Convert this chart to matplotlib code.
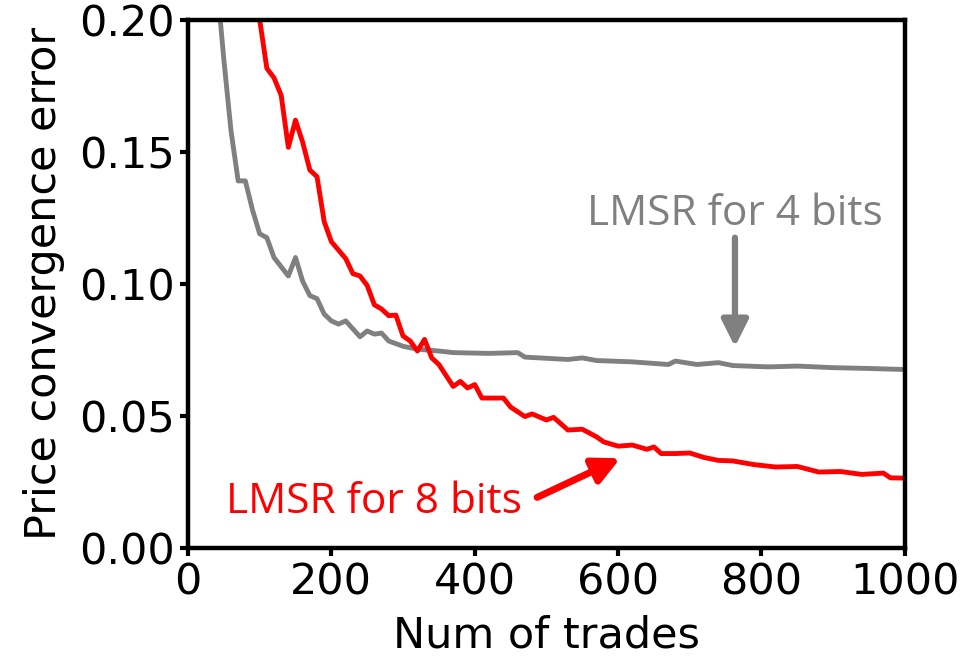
import matplotlib
matplotlib.use('Agg')
import matplotlib.pyplot as plt

# trades vs. price convergence error
trades_4 = [40, 50, 60, 70, 80, 90, 100, 110, 120, 140, 150, 160, 170, 180, 190, 200,
            210, 220, 240, 250, 260, 270, 280, 300, 320, 350, 370, 420, 460, 470, 530,
            550, 570, 620, 670, 680, 710, 740, 760, 810, 850, 900, 950, 1000]
error_4 = [0.215, 0.185, 0.158, 0.139, 0.139, 0.128, 0.119, 0.1175, 0.110, 0.103, 0.110,
           0.101, 0.0956, 0.0944, 0.0886, 0.086, 0.0848, 0.086, 0.080, 0.0822, 0.081,
           0.0814, 0.0784, 0.0764, 0.0753, 0.0746, 0.074, 0.0737, 0.074, 0.0723, 0.0714,
           0.072, 0.071, 0.0705, 0.0695, 0.0708, 0.0695, 0.0702, 0.0691, 0.0686, 0.0689,
           0.0683, 0.068, 0.0676]

trades_8 = [90, 100, 110, 120, 130, 140, 150, 160, 170, 180, 190, 200, 210, 220, 230, 240,
            250, 260, 270, 280, 290, 300, 310, 320, 330, 340, 350, 370, 380, 390, 400, 410,
            440, 450, 470, 480, 500, 510, 530, 550, 570, 580, 600, 620, 640, 650, 660, 680,
            700, 720, 740, 760, 790, 820, 850, 880, 910, 940, 970, 980, 1000]
error_8 = [0.225, 0.20, 0.1816, 0.178, 0.1714, 0.1517, 0.162, 0.1536, 0.1431, 0.1406,
           0.1236, 0.116, 0.1128, 0.1096, 0.1039, 0.103, 0.0994, 0.0921, 0.0905, 0.088,
           0.0882, 0.0803, 0.0784, 0.0746, 0.079, 0.072, 0.0695, 0.0612, 0.0631, 0.0606,
           0.0619, 0.0568, 0.0568, 0.0534, 0.0498, 0.0508, 0.0485, 0.0495, 0.0447, 0.045,
           0.0421, 0.0402, 0.0386, 0.039, 0.0374, 0.0383, 0.0358, 0.0358, 0.036, 0.0343,
           0.0332, 0.033, 0.0316, 0.0307, 0.0309, 0.0288, 0.029, 0.0279, 0.0284, 0.0266,
           0.0265]

fig = plt.figure(figsize=(9.74, 6.58), dpi=100)
ax = fig.add_axes([0.193, 0.167, 0.736, 0.803])

ax.plot(trades_4, error_4, color='gray', lw=3.5)
ax.plot(trades_8, error_8, color='red', lw=3.5)

ax.set_xlim(0, 1000)
ax.set_ylim(0, 0.2)
ax.set_xticks([0, 200, 400, 600, 800, 1000])
ax.set_yticks([0.0, 0.05, 0.10, 0.15, 0.20])
ax.set_yticklabels(['0.00', '0.05', '0.10', '0.15', '0.20'])
ax.tick_params(labelsize=31, width=3, length=6)
for s in ax.spines.values():
    s.set_linewidth(3.2)

ax.set_xlabel('Num of trades', fontsize=31, labelpad=8)
ax.set_ylabel('Price convergence error', fontsize=31, labelpad=10)

ann_font = ['Open Sans', 'DejaVu Sans']
ax.annotate('', xy=(763, 0.0762), xytext=(763, 0.1175),
            arrowprops=dict(arrowstyle='-|>,head_length=0.8,head_width=0.4',
                            mutation_scale=20, color='gray', lw=4.5,
                            shrinkA=0, shrinkB=0))
ax.text(763, 0.1265, 'LMSR for 4 bits', color='gray', fontsize=30.5,
        family=ann_font, ha='center', va='center')

ax.annotate('', xy=(603, 0.0340), xytext=(487, 0.0192),
            arrowprops=dict(arrowstyle='-|>,head_length=0.8,head_width=0.4',
                            mutation_scale=20, color='red', lw=5,
                            shrinkA=0, shrinkB=0))
ax.text(259, 0.0175, 'LMSR for 8 bits', color='red', fontsize=30.5,
        family=ann_font, ha='center', va='center')

fig.savefig('out.png', dpi=100)
